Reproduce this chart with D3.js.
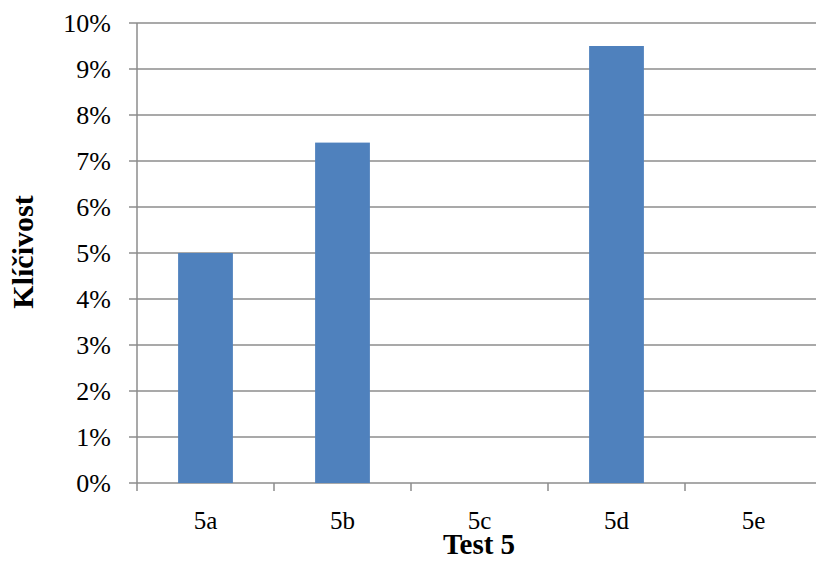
<!DOCTYPE html>
<html>
<head>
<meta charset="utf-8">
<script src="https://cdn.jsdelivr.net/npm/d3@7"></script>
<style>
  html, body { margin: 0; padding: 0; background: #fff; }
  svg { display: block; }
  text { font-family: "Liberation Serif", "DejaVu Serif", serif; fill: #000; }
</style>
</head>
<body>
<svg id="chart" width="816" height="561"></svg>
<script>
// Germination rate per sample in test 5
const categories = ["5a", "5b", "5c", "5d", "5e"];
const values = [0.05, 0.074, 0, 0.095, 0];
const yTicks = [0, 0.01, 0.02, 0.03, 0.04, 0.05, 0.06, 0.07, 0.08, 0.09, 0.10];
const xTitle = "Test 5";
const yTitle = "Klíčivost";

const svg = d3.select("#chart");
const margin = { left: 137, right: -6, top: 23, bottom: 78 };
const width = 816 - margin.left - margin.right;
const height = 561 - margin.top - margin.bottom;

const g = svg.append("g").attr("transform", `translate(${margin.left},${margin.top})`);

const x = d3.scaleBand().domain(categories).range([0, width]).paddingInner(0.6).paddingOuter(0.3);
const y = d3.scaleLinear().domain([0, 0.10]).range([height, 0]);

const gridColor = "#8c8c8c";

// horizontal gridlines with short ticks to the left
g.append("g").selectAll("line").data(yTicks).join("line")
  .attr("x1", -8).attr("x2", width)
  .attr("y1", d => y(d)).attr("y2", d => y(d))
  .attr("stroke", gridColor).attr("stroke-width", 1.5);

// y axis labels
g.append("g").selectAll("text").data(yTicks).join("text")
  .attr("x", -26).attr("y", d => y(d)).attr("dy", "0.35em")
  .attr("text-anchor", "end").style("font-size", "26px")
  .text(d3.format(".0%"));

// bars
g.append("g").selectAll("rect").data(categories).join("rect")
  .attr("x", d => x(d)).attr("width", x.bandwidth())
  .attr("y", (d, i) => y(values[i]))
  .attr("height", (d, i) => height - y(values[i]))
  .attr("fill", "#4f81bd");

// vertical axis line
g.append("line").attr("x1", 0).attr("x2", 0).attr("y1", 0).attr("y2", height)
  .attr("stroke", gridColor).attr("stroke-width", 1.5);

// category boundary ticks below baseline
const step = x.step();
const bounds = d3.range(categories.length + 1).map(i => i * step);
g.append("g").selectAll("line").data(bounds).join("line")
  .attr("x1", d => d).attr("x2", d => d).attr("y1", height).attr("y2", height + 8)
  .attr("stroke", gridColor).attr("stroke-width", 1.5);

// category labels
g.append("g").selectAll("text").data(categories).join("text")
  .attr("x", d => x(d) + x.bandwidth() / 2).attr("y", height + 46)
  .attr("text-anchor", "middle").style("font-size", "25px")
  .text(d => d);

// axis titles
svg.append("text").attr("x", 479).attr("y", 554)
  .attr("text-anchor", "middle").style("font-size", "29px").style("font-weight", "bold")
  .text(xTitle);

svg.append("text").attr("transform", "translate(33,252) rotate(-90)")
  .attr("text-anchor", "middle").style("font-size", "30px").style("font-weight", "bold")
  .text(yTitle);
</script>
</body>
</html>
